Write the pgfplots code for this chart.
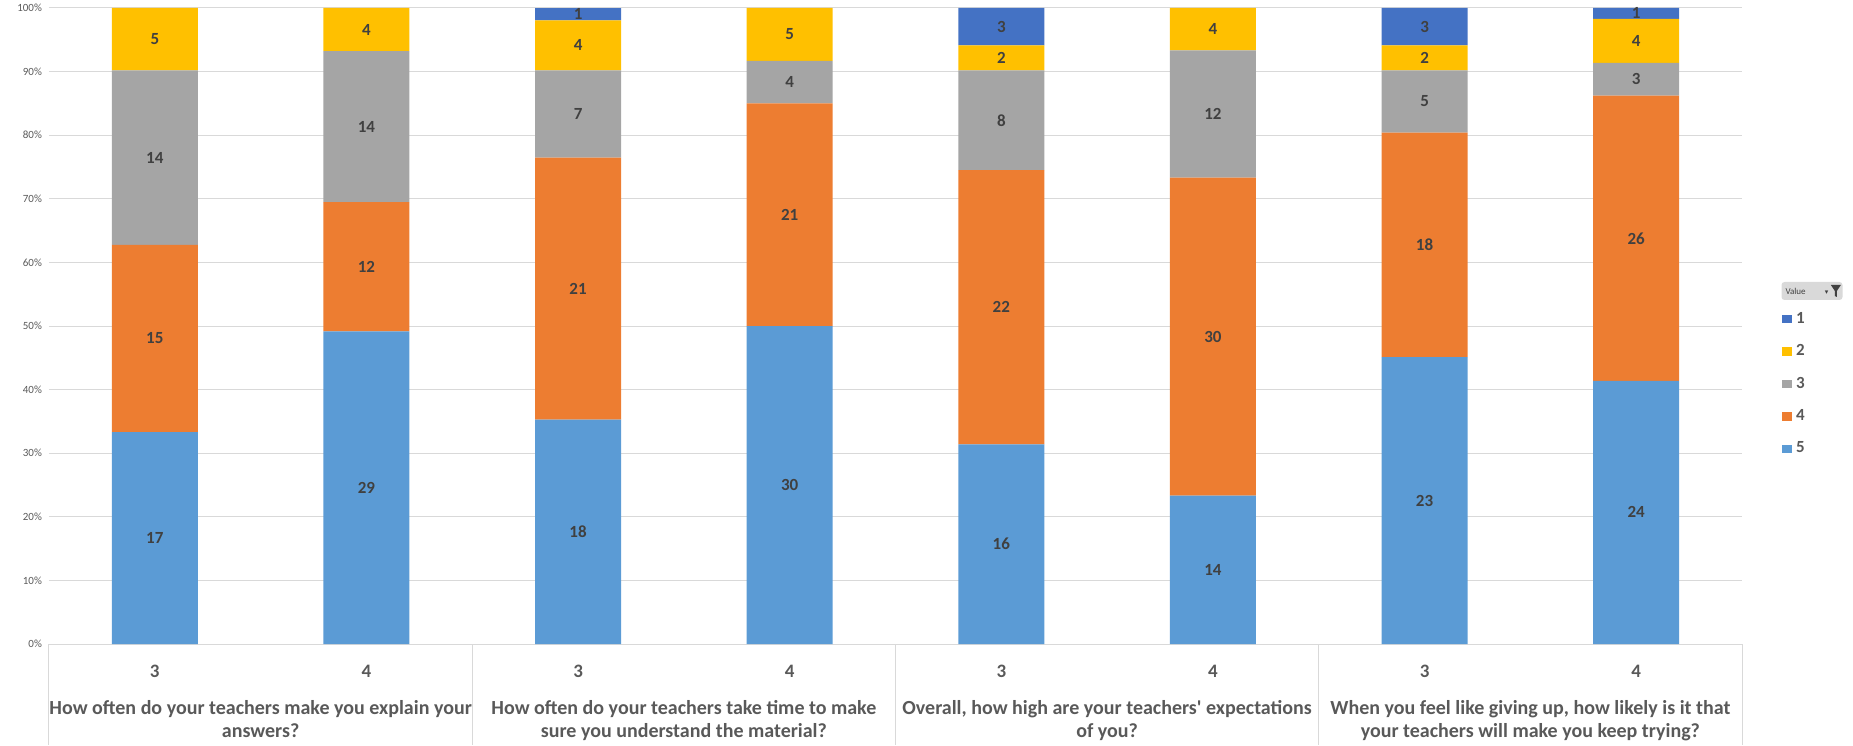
\documentclass[border=0pt]{standalone}
\usepackage{fontspec}
\setmainfont{Carlito}
\newfontfamily\dejavu{DejaVu Sans}
\usepackage{pgfplots}
\usepackage{pgfplotstable}
\pgfplotsset{compat=1.18}
\definecolor{cone}{HTML}{4472C4}
\definecolor{ctwo}{HTML}{FFC000}
\definecolor{cthree}{HTML}{A5A5A5}
\definecolor{cfour}{HTML}{ED7D31}
\definecolor{cfive}{HTML}{5B9BD5}
\definecolor{gridc}{HTML}{D9D9D9}
\definecolor{txt}{HTML}{595959}
\definecolor{lab}{HTML}{404040}

% percentage share (y) and response count (n) for each bar
\pgfplotstableread{
x y n
0 33.333 17
1 49.153 29
2 35.294 18
3 50.000 30
4 31.373 16
5 23.333 14
6 45.098 23
7 41.379 24
}\tfive
\pgfplotstableread{
x y n
0 29.412 15
1 20.339 12
2 41.176 21
3 35.000 21
4 43.137 22
5 50.000 30
6 35.294 18
7 44.828 26
}\tfour
\pgfplotstableread{
x y n
0 27.451 14
1 23.729 14
2 13.725 7
3 6.667 4
4 15.686 8
5 20.000 12
6 9.804 5
7 5.172 3
}\tthree
\pgfplotstableread{
x y n
0 9.804 5
1 6.780 4
2 7.843 4
3 8.333 5
4 3.922 2
5 6.667 4
6 3.922 2
7 6.897 4
}\ttwo
\pgfplotstableread{
x y n
0 0 {}
1 0 {}
2 1.961 1
3 0 {}
4 5.882 3
5 0 {}
6 5.882 3
7 1.724 1
}\tone

\begin{document}
\begin{tikzpicture}
\begin{axis}[
  name=ax,
  scale only axis, width=846.5pt, height=318pt,
  ybar stacked, bar width=43pt,
  xmin=-0.5, xmax=7.5, ymin=0, ymax=100,
  xtick={0,...,7}, xticklabels={3,4,3,4,3,4,3,4},
  ytick={0,10,...,100},
  yticklabel={\pgfmathprintnumber{\tick}\%},
  /pgf/number format/assume math mode=true,
  ymajorgrids, grid style={gridc, line width=0.5pt},
  axis line style={draw=none},
  major tick length=0pt,
  yticklabel style={font=\fontsize{5.5}{6}\selectfont, text=txt},
  xticklabel style={font=\bfseries\fontsize{9.5}{10}\selectfont, text=txt, yshift=-7pt},
  clip=false,
  reverse legend,
  legend style={draw=none, fill=none, at={(rel axis cs:1,1)}, anchor=north west,
    xshift=20pt, yshift=-149.8pt, font=\bfseries\fontsize{8.5}{9}\selectfont, text=txt,
    row sep=5.2pt, inner sep=0pt, cells={anchor=west}},
  legend image code/.code={\fill[#1] (0pt,-2.2pt) rectangle (4.8pt,2.2pt);},
  point meta=explicit symbolic,
  nodes near coords,
  every node near coord/.append style={font=\bfseries\fontsize{8.5}{9}\selectfont, text=lab,
    anchor=center},
]
\addplot[fill=cfive, draw=none] table[x=x, y=y, meta=n] {\tfive};
\addplot[fill=cfour, draw=none] table[x=x, y=y, meta=n] {\tfour};
\addplot[fill=cthree, draw=none] table[x=x, y=y, meta=n] {\tthree};
\addplot[fill=ctwo, draw=none] table[x=x, y=y, meta=n] {\ttwo};
\addplot[fill=cone, draw=none] table[x=x, y=y, meta=n] {\tone};
\legend{5,4,3,2,1}

\pgfplotsinvokeforeach{-0.5,1.5,3.5,5.5,7.5}{
  \draw[gridc, line width=0.5pt] (axis cs:#1,0) -- ([yshift=-50.5pt]axis cs:#1,0);
}
\tikzset{grp/.style={anchor=north, align=center, text=txt,
  font=\bfseries\fontsize{10}{11.5}\selectfont, inner sep=0pt}}
\node[grp] at ([yshift=-28pt]axis cs:0.5,0) {How often do your teachers make you explain your\\answers?};
\node[grp] at ([yshift=-28pt]axis cs:2.5,0) {How often do your teachers take time to make\\sure you understand the material?};
\node[grp] at ([yshift=-28pt]axis cs:4.5,0) {Overall, how high are your teachers\textquotesingle\ expectations\\of you?};
\node[grp] at ([yshift=-28pt]axis cs:6.5,0) {When you feel like giving up, how likely is it that\\your teachers will make you keep trying?};
\end{axis}
% filter button above the legend
\node[fill=gridc, rounded corners=1.5pt, minimum width=30.5pt, minimum height=9pt, inner sep=0pt]
  (btn) at ([xshift=35pt, yshift=-141.5pt]ax.north east) {};
\node[anchor=west, inner sep=0pt, text=lab, font=\fontsize{4.5}{5}\selectfont] at ([xshift=2pt]btn.west) {Value};
\node[anchor=east, inner sep=0pt, text=lab, font=\dejavu\fontsize{3.5}{4}\selectfont] at ([xshift=-7pt,yshift=-0.8pt]btn.east) {▾};
\fill[lab] ([xshift=-6pt,yshift=3pt]btn.east) -- ([xshift=-1pt,yshift=3pt]btn.east) -- ([xshift=-3pt,yshift=0pt]btn.east) -- ([xshift=-3pt,yshift=-3pt]btn.east) -- ([xshift=-4pt,yshift=-2.5pt]btn.east) -- ([xshift=-4pt,yshift=0pt]btn.east) -- cycle;
\pgfresetboundingbox
\path ([shift={(-24.5pt,-50.5pt)}]ax.south west) rectangle ([shift={(55.5pt,4pt)}]ax.north east);
\end{tikzpicture}
\end{document}
